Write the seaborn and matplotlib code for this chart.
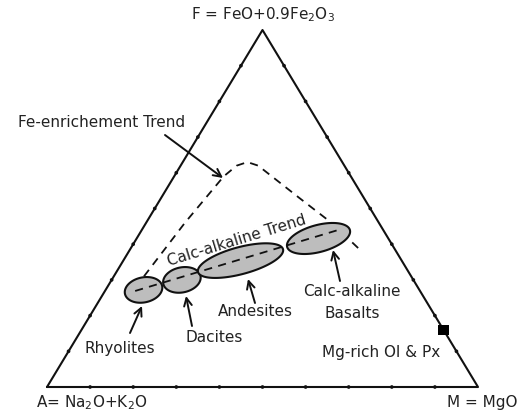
import numpy as np
import pandas as pd
import matplotlib
matplotlib.use("Agg")
import matplotlib.pyplot as plt
import seaborn as sns

# ---------------- data (ternary percentages) ----------------
# Fe-enrichment trend (dashed curve), F and M in %, A = 100 - F - M
fe_trend_F = [31, 46, 59, 62, 63, 62, 53, 46, 38]
fe_trend_M = [7, 9, 11.5, 13, 15, 18, 32, 43, 54]
# Calc-alkaline trend (dashed straight line)
calc_trend_F = [26.9, 44.3]
calc_trend_M = [7.0, 46.3]
# Rock fields (ellipse centres)
field_names = ["Rhyolites", "Dacites", "Andesites", "Calc-alkaline Basalts"]
field_F = [27.2, 30.0, 35.4, 41.6]
field_M = [8.8, 16.3, 27.2, 42.2]
# Mg-rich Ol & Px point
mg_point_F = [16]
mg_point_M = [84]
# Grid tick fractions along each edge
tick_fractions = [10, 20, 30, 40, 50, 60, 70, 80, 90]
# Vertex labels
label_F = r"F = FeO+0.9Fe$_2$O$_3$"
label_A = r"A= Na$_2$O+K$_2$O"
label_M = "M = MgO"


def tern(F, M):
    F = np.asarray(F, float) / 100.0
    M = np.asarray(M, float) / 100.0
    return M + F / 2.0, F


# ---------------- figure ----------------
sns.set_theme(style="white")
plt.rcParams["font.family"] = ["DejaVu Sans"]

W, H = 518, 415
fig = plt.figure(figsize=(W / 100, H / 100), dpi=100)
ax = fig.add_axes([0, 0, 1, 1])
X0, Y0, SX, SY = 47.0, 387.0, 431.0, 357.0  # layout: triangle placement in pixels
ax.set_xlim(-X0 / SX, (W - X0) / SX)
ax.set_ylim((Y0 - H) / SY, Y0 / SY)
ax.axis("off")


def px(x, y):
    """layout helper: pixel position -> data position (for labels/arrows)"""
    return (x - X0) / SX, (Y0 - y) / SY


# triangle outline
tri_F = [0, 0, 100, 0]
tri_M = [0, 100, 0, 0]
tx, ty = tern(tri_F, tri_M)
sns.lineplot(x=tx, y=ty, sort=False, color="#111111", lw=1.5, ax=ax,
             estimator=None)

# tick dots on edges
tfr = np.array(tick_fractions, float)
tick_F = np.concatenate([np.zeros_like(tfr), tfr, tfr])
tick_M = np.concatenate([tfr, np.zeros_like(tfr), 100 - tfr])
kx, ky = tern(tick_F, tick_M)
sns.scatterplot(x=kx, y=ky, s=7, color="#111111", edgecolor="none", ax=ax,
                zorder=4)

# Fe-enrichment trend
fx, fy = tern(fe_trend_F, fe_trend_M)
ax.plot(fx, fy, color="#111111", lw=1.3, ls=(0, (4.5, 3.5)), zorder=1)

# ellipses
shapes = [(19, 12.5, 12), (19, 12.5, 12), (44, 13.5, 15), (32.5, 13.5, 15)]
cx, cy = tern(field_F, field_M)
t = np.linspace(0, 2 * np.pi, 200)
for (a, b, th), x0, y0 in zip(shapes, cx, cy):
    th = np.deg2rad(th)
    dx = a * np.cos(t) * np.cos(th) - b * np.sin(t) * np.sin(th)
    dy = a * np.cos(t) * np.sin(th) + b * np.sin(t) * np.cos(th)
    ax.fill(x0 + dx / SX, y0 + dy / SY, facecolor="#bdbdbd",
            edgecolor="#111111", lw=1.5, zorder=2)

# calc-alkaline trend
lx, ly = tern(calc_trend_F, calc_trend_M)
ax.plot(lx, ly, color="#111111", lw=1.3, ls=(0, (4.5, 3.5)), zorder=3)

# Mg-rich point
mx, my = tern(mg_point_F, mg_point_M)
sns.scatterplot(x=mx, y=my, marker="s", s=55, color="black",
                edgecolor="none", ax=ax, zorder=5)

# ---------------- labels ----------------
fs = 11
kw = dict(ha="center", va="center", fontsize=fs, color="#222222")
ax.text(*px(263, 15), label_F, **kw)
ax.text(*px(92, 403), label_A, **kw)
ax.text(*px(447, 402), label_M, ha="left", va="center", fontsize=fs,
        color="#222222")
ax.text(*px(102, 123), "Fe-enrichement Trend", **kw)
ax.text(*px(237, 241), "Calc-alkaline Trend", rotation=17, **kw)
ax.text(*px(120, 349), field_names[0], **kw)
ax.text(*px(214, 338), field_names[1], **kw)
ax.text(*px(255, 312), field_names[2], **kw)
ax.text(*px(352, 292), "Calc-alkaline", **kw)
ax.text(*px(352, 314), "Basalts", **kw)
ax.text(*px(381, 352), "Mg-rich Ol & Px", **kw)

arrows = [((165, 135), (223, 178)),
          ((130, 333), (142, 306)),
          ((192, 326), (186, 296)),
          ((255, 303), (248, 279)),
          ((340, 281), (333, 250))]
for tail, head in arrows:
    ax.annotate("", xy=px(*head), xytext=px(*tail),
                arrowprops=dict(arrowstyle="->", color="#111111", lw=1.4,
                                mutation_scale=14, shrinkA=0, shrinkB=0))

fig.savefig("out.png", dpi=100, facecolor="white")
